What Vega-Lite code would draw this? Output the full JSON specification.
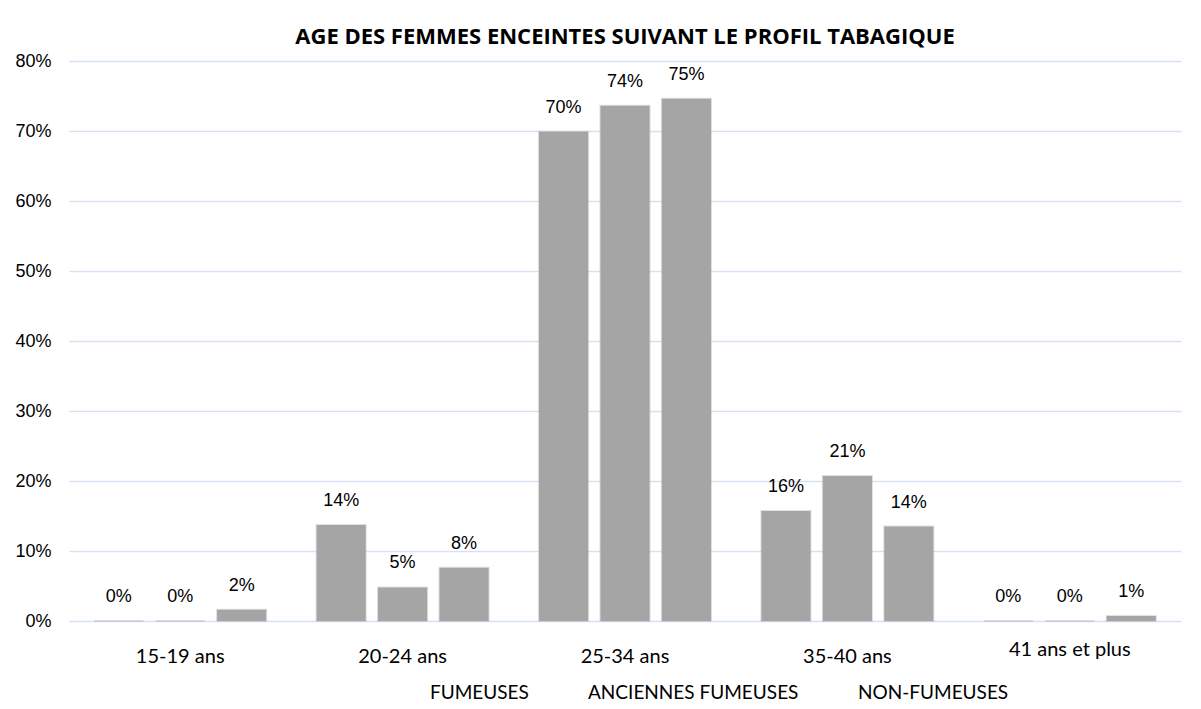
{
  "$schema": "https://vega.github.io/schema/vega-lite/v6.json",
  "width": 1112,
  "height": 560,
  "autosize": {"type": "none"},
  "padding": {"left": 69, "top": 61, "right": 20, "bottom": 88},
  "background": "white",
  "title": {
    "text": "AGE DES FEMMES ENCEINTES SUIVANT LE PROFIL TABAGIQUE",
    "font": "Open Sans",
    "fontSize": 22,
    "fontWeight": "bold",
    "color": "#000000",
    "anchor": "middle",
    "frame": "group",
    "baseline": "alphabetic",
    "offset": 15,
    "dy": 29
  },
  "data": {
    "values": [
      {"age": "15-19 ans", "profil": "FUMEUSES", "pct": 0},
      {"age": "15-19 ans", "profil": "ANCIENNES FUMEUSES", "pct": 0},
      {"age": "15-19 ans", "profil": "NON-FUMEUSES", "pct": 0.016},
      {"age": "20-24 ans", "profil": "FUMEUSES", "pct": 0.137},
      {"age": "20-24 ans", "profil": "ANCIENNES FUMEUSES", "pct": 0.048},
      {"age": "20-24 ans", "profil": "NON-FUMEUSES", "pct": 0.076},
      {"age": "25-34 ans", "profil": "FUMEUSES", "pct": 0.699},
      {"age": "25-34 ans", "profil": "ANCIENNES FUMEUSES", "pct": 0.736},
      {"age": "25-34 ans", "profil": "NON-FUMEUSES", "pct": 0.746},
      {"age": "35-40 ans", "profil": "FUMEUSES", "pct": 0.157},
      {"age": "35-40 ans", "profil": "ANCIENNES FUMEUSES", "pct": 0.207},
      {"age": "35-40 ans", "profil": "NON-FUMEUSES", "pct": 0.135},
      {"age": "41 ans et plus", "profil": "FUMEUSES", "pct": 0},
      {"age": "41 ans et plus", "profil": "ANCIENNES FUMEUSES", "pct": 0},
      {"age": "41 ans et plus", "profil": "NON-FUMEUSES", "pct": 0.007}
    ]
  },
  "encoding": {
    "x": {
      "field": "age",
      "type": "nominal",
      "sort": ["15-19 ans", "20-24 ans", "25-34 ans", "35-40 ans", "41 ans et plus"],
      "scale": {"paddingInner": 0, "paddingOuter": 0},
      "axis": {
        "title": null,
        "labelAngle": 0,
        "labelFont": "Lato",
        "labelFontSize": 20,
        "labelColor": "#000000",
        "labelBaseline": "alphabetic",
        "labelPadding": {"condition": {"test": "datum.value == '41 ans et plus'", "value": 34}, "value": 41},
        "ticks": false,
        "tickSize": 0,
        "domain": false,
        "grid": false
      }
    },
    "xOffset": {
      "field": "profil",
      "type": "nominal",
      "sort": ["FUMEUSES", "ANCIENNES FUMEUSES", "NON-FUMEUSES"],
      "scale": {"paddingInner": 0.2, "paddingOuter": 0.41}
    },
    "y": {
      "field": "pct",
      "type": "quantitative",
      "scale": {"domain": [0, 0.8], "nice": false},
      "axis": {
        "title": null,
        "format": ".0%",
        "values": [0, 0.1, 0.2, 0.3, 0.4, 0.5, 0.6, 0.7, 0.8],
        "labelFont": "Liberation Sans",
        "labelFontSize": 18,
        "labelColor": "#000000",
        "labelPadding": 18,
        "ticks": false,
        "tickSize": 0,
        "domain": false,
        "grid": true,
        "gridColor": "#d6e2f3",
        "gridWidth": 1.5
      }
    }
  },
  "layer": [
    {
      "mark": {"type": "bar", "stroke": "#a5a5a5", "strokeWidth": 2, "strokeOpacity": 0.35},
      "encoding": {
        "color": {
          "field": "profil",
          "type": "nominal",
          "sort": ["FUMEUSES", "ANCIENNES FUMEUSES", "NON-FUMEUSES"],
          "scale": {"range": ["#a5a5a5", "#a5a5a5", "#a5a5a5"]},
          "legend": {
            "title": null,
            "orient": "none",
            "legendX": 342,
            "legendY": 622,
            "direction": "horizontal",
            "symbolSize": 0,
            "symbolOpacity": 0,
            "symbolStrokeWidth": 0,
            "labelOffset": 0,
            "labelLimit": 400,
            "columnPadding": 40,
            "labelFont": "Lato",
            "labelFontSize": 19,
            "labelColor": "#000000"
          }
        }
      }
    },
    {
      "mark": {"type": "text", "baseline": "alphabetic", "dy": -19, "font": "Liberation Sans", "fontSize": 18, "color": "#000000"},
      "encoding": {
        "text": {"field": "pct", "type": "quantitative", "format": ".0%"}
      }
    }
  ],
  "config": {"view": {"stroke": null}}
}
